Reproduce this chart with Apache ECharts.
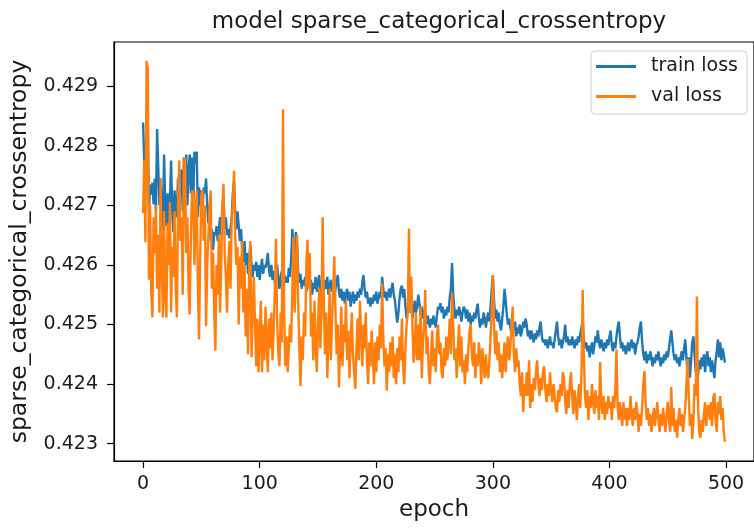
<!DOCTYPE html>
<html><head><meta charset="utf-8">
<script src="https://cdn.jsdelivr.net/npm/echarts@6/dist/echarts.min.js"></script>
<style>html,body{margin:0;padding:0;background:#fff}#c{width:754px;height:529px}</style>
</head><body><div id="c"></div>
<script>
const trainLoss = [
0.42839,0.42772,0.42745,0.42790,0.42845,0.42688,0.42735,0.42718,0.42738,0.42702,
0.42745,0.42690,0.42828,0.42826,0.42700,0.42745,0.42690,0.42660,0.42785,0.42700,
0.42665,0.42720,0.42650,0.42700,0.42775,0.42690,0.42655,0.42725,0.42680,0.42700,
0.42745,0.42700,0.42740,0.42760,0.42690,0.42780,0.42710,0.42785,0.42700,0.42760,
0.42785,0.42720,0.42780,0.42700,0.42790,0.42770,0.42790,0.42680,0.42730,0.42700,
0.42725,0.42690,0.42730,0.42720,0.42745,0.42700,0.42670,0.42700,0.42640,0.42660,
0.42625,0.42655,0.42650,0.42665,0.42640,0.42660,0.42680,0.42650,0.42700,0.42715,
0.42660,0.42680,0.42650,0.42660,0.42645,0.42660,0.42680,0.42720,0.42740,0.42690,
0.42660,0.42690,0.42692,0.42640,0.42660,0.42625,0.42605,0.42640,0.42600,0.42620,
0.42585,0.42610,0.42633,0.42600,0.42580,0.42600,0.42590,0.42605,0.42580,0.42600,
0.42575,0.42595,0.42610,0.42585,0.42600,0.42595,0.42605,0.42620,0.42590,0.42580,
0.42600,0.42575,0.42590,0.42570,0.42585,0.42600,0.42575,0.42560,0.42580,0.42590,
0.42575,0.42585,0.42570,0.42580,0.42570,0.42595,0.42580,0.42610,0.42660,0.42630,
0.42600,0.42655,0.42640,0.42590,0.42570,0.42585,0.42560,0.42575,0.42565,0.42580,
0.42555,0.42570,0.42585,0.42560,0.42575,0.42550,0.42570,0.42560,0.42580,0.42555,
0.42570,0.42583,0.42560,0.42550,0.42570,0.42555,0.42575,0.42560,0.42580,0.42550,
0.42565,0.42575,0.42555,0.42570,0.42545,0.42560,0.42570,0.42583,0.42555,0.42545,
0.42560,0.42540,0.42555,0.42535,0.42550,0.42560,0.42540,0.42555,0.42530,0.42545,
0.42555,0.42535,0.42550,0.42540,0.42555,0.42545,0.42560,0.42550,0.42570,0.42583,
0.42560,0.42545,0.42555,0.42535,0.42545,0.42530,0.42545,0.42535,0.42550,0.42540,
0.42555,0.42535,0.42545,0.42555,0.42545,0.42580,0.42560,0.42545,0.42555,0.42540,
0.42550,0.42560,0.42545,0.42560,0.42570,0.42550,0.42540,0.42520,0.42503,0.42520,
0.42545,0.42560,0.42565,0.42545,0.42560,0.42530,0.42510,0.42525,0.42540,0.42520,
0.42535,0.42510,0.42525,0.42540,0.42520,0.42530,0.42550,0.42535,0.42515,0.42530,
0.42510,0.42525,0.42515,0.42500,0.42515,0.42505,0.42495,0.42510,0.42500,0.42515,
0.42505,0.42495,0.42515,0.42530,0.42525,0.42536,0.42520,0.42530,0.42510,0.42525,
0.42515,0.42530,0.42520,0.42545,0.42560,0.42603,0.42550,0.42525,0.42510,0.42525,
0.42515,0.42530,0.42520,0.42505,0.42520,0.42530,0.42525,0.42510,0.42525,0.42505,
0.42520,0.42500,0.42515,0.42505,0.42520,0.42510,0.42525,0.42535,0.42510,0.42495,
0.42510,0.42500,0.42520,0.42510,0.42495,0.42510,0.42520,0.42505,0.42530,0.42560,
0.42583,0.42540,0.42510,0.42525,0.42505,0.42520,0.42500,0.42490,0.42510,0.42530,
0.42560,0.42540,0.42515,0.42500,0.42510,0.42495,0.42485,0.42500,0.42490,0.42505,
0.42480,0.42495,0.42485,0.42500,0.42480,0.42490,0.42505,0.42495,0.42510,0.42500,
0.42480,0.42490,0.42475,0.42490,0.42480,0.42470,0.42485,0.42475,0.42490,0.42480,
0.42495,0.42505,0.42480,0.42470,0.42475,0.42465,0.42475,0.42460,0.42470,0.42480,
0.42465,0.42470,0.42460,0.42475,0.42490,0.42505,0.42480,0.42465,0.42475,0.42460,
0.42470,0.42480,0.42500,0.42470,0.42480,0.42465,0.42475,0.42465,0.42480,0.42470,
0.42460,0.42475,0.42465,0.42480,0.42470,0.42485,0.42495,0.42505,0.42475,0.42460,
0.42470,0.42455,0.42465,0.42445,0.42460,0.42470,0.42450,0.42465,0.42480,0.42470,
0.42490,0.42470,0.42460,0.42475,0.42465,0.42455,0.42470,0.42460,0.42475,0.42465,
0.42480,0.42490,0.42465,0.42455,0.42470,0.42460,0.42480,0.42495,0.42505,0.42480,
0.42460,0.42470,0.42455,0.42465,0.42450,0.42460,0.42470,0.42455,0.42465,0.42475,
0.42460,0.42470,0.42450,0.42465,0.42470,0.42480,0.42495,0.42505,0.42470,0.42450,
0.42440,0.42455,0.42435,0.42450,0.42440,0.42455,0.42445,0.42430,0.42445,0.42435,
0.42450,0.42440,0.42455,0.42440,0.42430,0.42445,0.42435,0.42450,0.42440,0.42455,
0.42445,0.42460,0.42475,0.42490,0.42470,0.42450,0.42440,0.42450,0.42435,0.42445,
0.42430,0.42445,0.42455,0.42440,0.42460,0.42475,0.42445,0.42420,0.42445,0.42411,
0.42440,0.42470,0.42480,0.42450,0.42420,0.42435,0.42415,0.42440,0.42425,0.42445,
0.42430,0.42450,0.42420,0.42445,0.42455,0.42430,0.42445,0.42420,0.42440,0.42425,
0.42410,0.42440,0.42455,0.42475,0.42445,0.42470,0.42440,0.42460,0.42450,0.42436
];
const valLoss = [
0.42687,0.42775,0.42638,0.42942,0.42930,0.42575,0.42700,0.42555,0.42512,0.42680,
0.42620,0.42700,0.42560,0.42650,0.42520,0.42745,0.42600,0.42512,0.42690,0.42550,
0.42512,0.42670,0.42600,0.42705,0.42520,0.42630,0.42580,0.42690,0.42560,0.42512,
0.42700,0.42775,0.42640,0.42680,0.42550,0.42770,0.42780,0.42620,0.42680,0.42560,
0.42517,0.42650,0.42725,0.42720,0.42600,0.42680,0.42725,0.42560,0.42475,0.42620,
0.42720,0.42725,0.42640,0.42700,0.42497,0.42600,0.42650,0.42700,0.42725,0.42560,
0.42620,0.42520,0.42456,0.42600,0.42550,0.42650,0.42520,0.42600,0.42700,0.42736,
0.42620,0.42580,0.42520,0.42600,0.42640,0.42560,0.42680,0.42700,0.42758,0.42650,
0.42600,0.42630,0.42500,0.42614,0.42560,0.42640,0.42520,0.42600,0.42480,0.42560,
0.42450,0.42600,0.42640,0.42445,0.42520,0.42580,0.42500,0.42430,0.42510,0.42420,
0.42480,0.42540,0.42420,0.42500,0.42440,0.42530,0.42470,0.42420,0.42510,0.42460,
0.42520,0.42440,0.42490,0.42560,0.42644,0.42500,0.42450,0.42430,0.42520,0.42470,
0.42861,0.42520,0.42430,0.42480,0.42420,0.42460,0.42500,0.42470,0.42560,0.42647,
0.42520,0.42600,0.42650,0.42540,0.42460,0.42397,0.42480,0.42440,0.42520,0.42480,
0.42600,0.42642,0.42560,0.42620,0.42480,0.42520,0.42440,0.42540,0.42470,0.42420,
0.42500,0.42560,0.42460,0.42520,0.42680,0.42540,0.42450,0.42520,0.42410,0.42480,
0.42560,0.42440,0.42500,0.42560,0.42614,0.42520,0.42450,0.42500,0.42395,0.42460,
0.42530,0.42430,0.42500,0.42470,0.42540,0.42440,0.42490,0.42410,0.42470,0.42520,
0.42450,0.42420,0.42392,0.42460,0.42510,0.42440,0.42540,0.42480,0.42430,0.42500,
0.42460,0.42520,0.42440,0.42400,0.42470,0.42430,0.42490,0.42450,0.42400,0.42470,
0.42420,0.42480,0.42440,0.42500,0.42460,0.42569,0.42480,0.42430,0.42460,0.42389,
0.42450,0.42420,0.42470,0.42430,0.42480,0.42410,0.42450,0.42400,0.42460,0.42420,
0.42480,0.42440,0.42510,0.42430,0.42400,0.42460,0.42500,0.42520,0.42661,0.42520,
0.42580,0.42500,0.42436,0.42460,0.42520,0.42440,0.42500,0.42440,0.42530,0.42410,
0.42470,0.42500,0.42558,0.42450,0.42480,0.42420,0.42400,0.42450,0.42490,0.42430,
0.42460,0.42420,0.42480,0.42500,0.42450,0.42470,0.42420,0.42410,0.42460,0.42430,
0.42480,0.42440,0.42470,0.42510,0.42450,0.42553,0.42500,0.42440,0.42460,0.42410,
0.42460,0.42500,0.42430,0.42480,0.42420,0.42440,0.42400,0.42450,0.42420,0.42460,
0.42490,0.42500,0.42450,0.42430,0.42470,0.42410,0.42450,0.42430,0.42470,0.42450,
0.42400,0.42460,0.42430,0.42410,0.42450,0.42420,0.42410,0.42440,0.42480,0.42520,
0.42583,0.42500,0.42450,0.42490,0.42440,0.42470,0.42420,0.42450,0.42410,0.42440,
0.42470,0.42420,0.42460,0.42480,0.42440,0.42460,0.42500,0.42530,0.42450,0.42420,
0.42460,0.42430,0.42440,0.42400,0.42380,0.42420,0.42353,0.42400,0.42380,0.42420,
0.42380,0.42440,0.42360,0.42400,0.42370,0.42410,0.42390,0.42420,0.42440,0.42400,
0.42380,0.42410,0.42390,0.42420,0.42430,0.42390,0.42370,0.42400,0.42380,0.42420,
0.42390,0.42370,0.42400,0.42380,0.42360,0.42353,0.42390,0.42370,0.42400,0.42380,
0.42420,0.42410,0.42370,0.42350,0.42390,0.42360,0.42400,0.42420,0.42380,0.42350,
0.42390,0.42370,0.42340,0.42380,0.42400,0.42360,0.42420,0.42558,0.42450,0.42380,
0.42360,0.42390,0.42340,0.42380,0.42360,0.42400,0.42370,0.42350,0.42390,0.42360,
0.42380,0.42340,0.42437,0.42370,0.42350,0.42380,0.42340,0.42370,0.42350,0.42380,
0.42360,0.42370,0.42340,0.42380,0.42360,0.42390,0.42458,0.42360,0.42340,0.42370,
0.42350,0.42330,0.42370,0.42340,0.42360,0.42330,0.42360,0.42340,0.42380,0.42350,
0.42330,0.42360,0.42340,0.42370,0.42350,0.42320,0.42350,0.42330,0.42360,0.42400,
0.42422,0.42370,0.42340,0.42360,0.42330,0.42350,0.42320,0.42340,0.42360,0.42330,
0.42350,0.42370,0.42340,0.42320,0.42350,0.42330,0.42360,0.42340,0.42320,0.42350,
0.42370,0.42340,0.42320,0.42395,0.42330,0.42360,0.42320,0.42340,0.42310,0.42340,
0.42360,0.42330,0.42350,0.42320,0.42340,0.42360,0.42400,0.42442,0.42380,0.42330,
0.42350,0.42308,0.42340,0.42400,0.42380,0.42547,0.42360,0.42320,0.42310,0.42340,
0.42320,0.42350,0.42370,0.42330,0.42360,0.42365,0.42340,0.42370,0.42330,0.42377,
0.42385,0.42340,0.42320,0.42370,0.42350,0.42380,0.42340,0.42360,0.42320,0.42303
];
const xTicks = [0, 100, 200, 300, 400, 500];
const yTicks = [0.423, 0.424, 0.425, 0.426, 0.427, 0.428, 0.429];
const seriesNames = ['train loss', 'val loss'];
const titleText = 'model sparse_categorical_crossentropy';
const xName = 'epoch';
const yName = 'sparse_categorical_crossentropy';

const FONT = 'DejaVu Sans';
const n = trainLoss.length;
const allVals = trainLoss.concat(valLoss);
const vMin = Math.min.apply(null, allVals), vMax = Math.max.apply(null, allVals);
const yPad = (vMax - vMin) * 0.05;
const xPad = (n - 1) * 0.05;

const chart = echarts.init(document.getElementById('c'), null, {renderer: 'canvas', width: 754, height: 529});
chart.setOption({
  animation: false,
  backgroundColor: '#ffffff',
  title: {
    text: titleText, left: 434, top: 6, textAlign: 'center',
    textStyle: {fontFamily: FONT, fontSize: 23, fontWeight: 'normal', color: '#1a1a1a'}
  },
  legend: {
    data: seriesNames, orient: 'vertical', right: 7, top: 51,
    icon: 'rect', itemWidth: 40, itemHeight: 3, itemGap: 9,
    padding: [5, 9, 7, 5],
    backgroundColor: 'rgba(255,255,255,0.8)', borderColor: '#cccccc', borderWidth: 1, borderRadius: 4,
    textStyle: {fontFamily: FONT, fontSize: 19, color: '#1a1a1a', lineHeight: 21, padding: [0, 0, 0, 10]}
  },
  grid: {left: 112, top: 42, width: 644, height: 419, show: true, borderColor: '#000', borderWidth: 1.2, backgroundColor: 'transparent'},
  xAxis: {
    type: 'value', min: -xPad, max: (n - 1) + xPad,
    name: xName, nameLocation: 'middle', nameGap: 38,
    nameTextStyle: {fontFamily: FONT, fontSize: 23, color: '#1a1a1a'},
    axisLine: {show: true, onZero: false, lineStyle: {color: '#000', width: 1.2}},
    axisTick: {show: true, length: 7, lineStyle: {color: '#000', width: 1.2}, customValues: xTicks},
    axisLabel: {fontFamily: FONT, fontSize: 19, color: '#1a1a1a', margin: 14, customValues: xTicks,
      formatter: v => String(Math.round(v))},
    splitLine: {show: false}
  },
  yAxis: {
    type: 'value', min: vMin - yPad, max: vMax + yPad,
    name: yName, nameLocation: 'middle', nameGap: 82, nameRotate: 90,
    nameTextStyle: {fontFamily: FONT, fontSize: 23.5, color: '#1a1a1a'},
    axisLine: {show: true, onZero: false, lineStyle: {color: '#000', width: 1.2}},
    axisTick: {show: true, length: 7, lineStyle: {color: '#000', width: 1.2}, customValues: yTicks},
    axisLabel: {fontFamily: FONT, fontSize: 19, color: '#1a1a1a', margin: 16, customValues: yTicks,
      formatter: v => v.toFixed(3)},
    splitLine: {show: false}
  },
  series: [
    {name: seriesNames[0], type: 'line', showSymbol: false, symbol: 'none', clip: true,
     data: trainLoss.map((v, i) => [i, v]), color: '#1f77b4', lineStyle: {width: 2.4, color: '#1f77b4'}},
    {name: seriesNames[1], type: 'line', showSymbol: false, symbol: 'none', clip: true,
     data: valLoss.map((v, i) => [i, v]), color: '#ff7f0e', lineStyle: {width: 2.4, color: '#ff7f0e'}}
  ]
});
</script>
</body></html>
